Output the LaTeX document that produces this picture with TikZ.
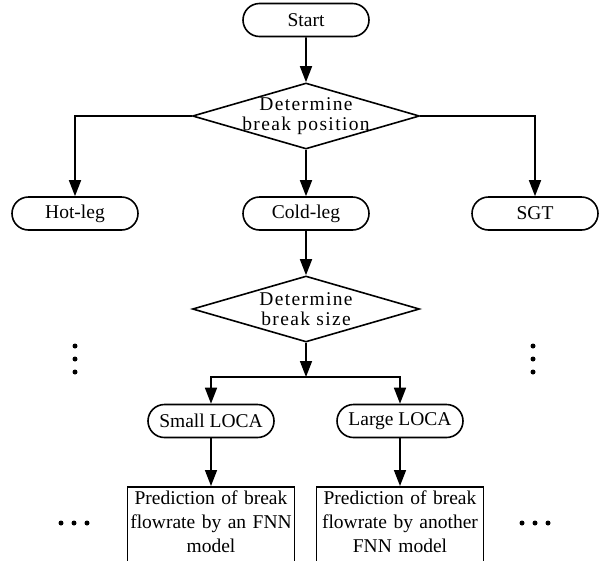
\documentclass[tikz,border=0pt]{standalone}
\usepackage{fontspec}
\setmainfont{Liberation Serif}
\usetikzlibrary{shapes.geometric,shapes.misc,arrows.meta}

\begin{document}
\begin{tikzpicture}[x=1pt,y=-1pt,line width=1.6pt,
  every node/.style={font=\fontsize{19.5}{24}\selectfont},
  term/.style={draw,rounded rectangle,minimum width=126pt,minimum height=33pt,inner sep=0pt},
  decision/.style={draw,diamond,minimum width=227pt,minimum height=66pt,inner sep=0pt},
  dlabel/.style={align=center,inner sep=0pt,font=\fontsize{19.5}{20}\selectfont\addfontfeature{LetterSpace=7}},
  predict/.style={draw,rectangle,anchor=north,text width=163pt,inner xsep=2pt,inner ysep=4pt,align=center,text depth=80pt},
  arr/.style={-{Triangle[length=16pt,width=12pt]}}]
  \useasboundingbox (0,0) rectangle (602,560);
  \clip (0,0) rectangle (602,560);

  \node[term] (start) at (306,20) {Start};
  \node[decision] (pos) at (306,116) {};
  \node[dlabel] (posText) at (pos) {Determine\\break position};
  \node[term] (hot) at (75,213.5) {Hot-leg};
  \node[term] (cold) at (306,213.5) {Cold-leg};
  \node[term] (sgt) at (535,213.5) {SGT};
  \node[decision] (size) at (306,309) {};
  \node[dlabel] (sizeText) at (size) {Determine\\break size};
  \coordinate (split) at (306,377);
  \node[term] (small) at (211,421) {Small LOCA};
  \node[term] (large) at (400,421) {Large LOCA};
  \node[predict] (fnnA) at (211,486) {Prediction of break\\flowrate by an FNN\\model};
  \node[predict] (fnnB) at (400,486) {Prediction of break\\flowrate by another\\FNN model};

  \draw[arr] (start) -- (pos);
  \draw[arr] (pos.west) -| (hot.north);
  \draw[arr] (pos.east) -| (sgt.north);
  \draw[arr] (pos.south) -- (cold.north);
  \draw[arr] (cold) -- (size);
  \draw[arr] (size.south) -- (split);
  \draw[arr] (split) -| (small.north);
  \draw[arr] (split) -| (large.north);
  \draw[arr] (small) -- (fnnA);
  \draw[arr] (large) -- (fnnB);

  % more cases not shown
  \foreach \y in {346,359,372} {
    \fill (75,\y) circle (2.5pt);
    \fill (533,\y) circle (2.5pt);
  }
  \foreach \x in {0,13,26} {
    \fill (61+\x,523) circle (2.5pt);
    \fill (522+\x,523) circle (2.5pt);
  }
\end{tikzpicture}
\end{document}
